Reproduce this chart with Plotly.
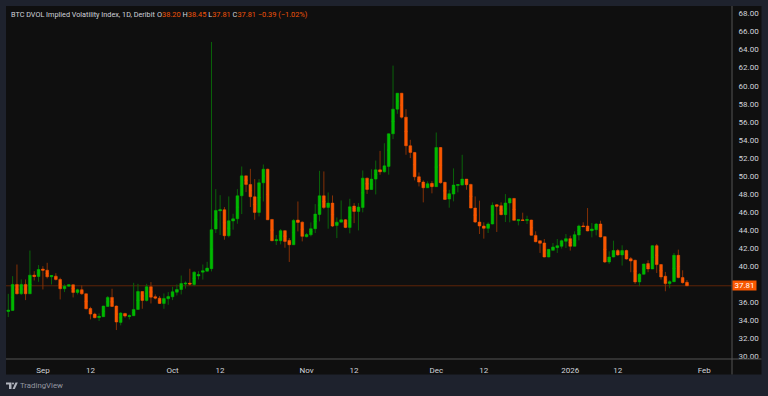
import pandas as pd
import plotly.graph_objects as go

START_DATE = "2025-08-24"
opens = [34.97,35.08,37.96,36.92,37.96,36.92,38.99,38.84,39.66,39.54,38.81,38.88,38.51,37.48,37.77,37.92,37.07,37.37,36.92,35.29,
 34.67,34.30,34.38,35.52,36.52,35.56,33.75,34.75,34.41,34.49,35.19,37.18,36.19,37.70,36.60,36.44,35.85,36.37,36.59,37.10,
 37.40,38.00,38.10,37.96,38.90,39.32,39.43,39.71,44.10,46.13,46.24,43.36,45.00,45.24,47.79,50.00,49.05,47.68,45.95,49.23,
 50.74,45.17,42.81,42.81,43.92,42.84,42.36,45.10,44.87,43.25,43.47,44.14,45.72,47.79,46.50,46.98,44.50,44.87,45.13,44.28,
 46.65,46.06,46.50,49.75,48.49,49.64,50.67,50.45,51.05,54.67,57.40,59.17,56.51,53.34,52.60,49.90,49.31,48.68,49.17,48.80,
 53.15,49.28,47.43,47.98,48.95,48.98,49.64,49.05,46.43,44.88,44.44,44.18,44.66,46.80,46.69,45.70,46.99,47.50,45.03,45.10,
 45.07,45.10,43.40,42.81,42.56,41.00,41.74,42.04,42.19,42.74,43.04,42.19,43.44,44.44,44.44,43.92,44.03,44.66,43.26,40.45,
 41.00,41.71,41.23,41.71,40.82,40.64,38.24,39.09,40.27,39.68,42.26,40.16,38.87,38.05,38.27,41.19,38.72,38.20]
highs = [36.92,38.88,40.17,38.51,38.51,41.72,39.43,40.10,39.99,40.36,38.95,39.21,38.70,37.96,37.96,37.96,37.48,37.85,36.95,35.48,
 34.82,34.75,35.60,36.67,37.48,35.63,34.89,34.80,34.63,38.14,38.03,37.20,38.03,38.22,36.85,36.67,36.96,37.11,37.70,37.96,
 38.95,38.30,39.70,39.43,39.43,40.17,40.47,64.85,48.53,47.86,46.54,47.72,45.80,48.53,51.04,50.00,50.78,49.64,49.64,51.26,
 50.80,45.20,43.44,44.10,43.95,43.10,45.20,47.16,44.95,43.66,44.84,46.87,50.56,50.49,48.16,47.83,45.39,47.27,45.20,47.46,
 46.98,46.98,50.60,49.80,50.74,51.70,52.77,53.62,54.70,62.23,59.20,59.20,57.40,54.00,52.65,50.38,49.50,49.40,49.42,54.81,
 53.20,49.35,48.46,50.83,49.02,52.34,49.66,49.13,47.72,47.25,44.85,44.85,47.06,46.88,47.06,47.98,47.58,47.55,45.14,45.92,
 45.58,45.14,43.85,42.81,43.00,41.90,42.56,43.00,42.93,43.55,43.37,43.85,44.59,44.85,46.43,44.77,44.77,45.03,43.30,41.63,
 42.81,41.90,42.30,41.82,41.00,40.71,39.23,40.25,40.64,42.30,42.45,40.23,39.35,38.42,41.45,41.82,39.53,38.45]
lows = [34.34,35.04,36.85,36.81,36.22,36.90,38.40,38.25,37.40,38.62,37.96,38.40,36.30,37.11,37.70,36.52,36.85,36.81,35.19,34.08,
 34.20,33.90,34.35,35.48,35.45,32.90,33.42,34.27,34.08,34.45,35.15,35.26,36.07,35.85,36.30,35.80,35.26,35.70,36.22,36.74,
 36.85,37.50,37.85,37.77,38.50,38.50,39.40,39.40,43.66,43.44,42.92,43.18,44.03,44.69,45.76,48.20,46.54,45.13,45.50,47.16,
 45.10,42.75,42.33,42.40,42.03,40.45,42.33,43.84,42.73,43.18,43.29,43.66,44.95,46.31,44.14,44.32,43.10,44.84,44.20,43.62,
 44.76,43.95,45.95,48.00,48.46,47.94,50.12,50.37,50.13,54.07,56.88,56.36,52.34,51.97,49.50,48.83,47.06,48.65,48.06,48.78,
 49.13,47.36,46.47,47.17,48.17,48.95,48.46,46.40,44.77,43.55,43.04,43.66,44.62,43.78,45.62,44.88,44.85,45.05,44.51,45.00,
 44.66,43.38,42.63,41.45,40.97,40.97,41.74,41.45,41.93,42.00,41.71,42.19,42.85,44.37,43.85,43.18,43.40,43.18,40.34,40.23,
 40.97,41.15,40.05,40.71,39.31,38.02,37.76,39.05,39.31,39.65,39.23,38.50,37.20,37.54,38.20,38.64,38.05,37.81]
closes = [35.11,37.96,36.92,37.96,36.92,38.99,38.84,39.62,39.54,38.81,38.95,38.51,37.48,37.77,37.92,37.07,37.37,36.92,35.26,34.67,
 34.27,34.41,35.56,36.52,35.52,33.79,34.78,34.45,34.49,35.19,37.18,36.19,37.70,36.55,36.44,35.85,36.41,36.63,37.15,37.40,
 38.07,38.10,38.00,39.32,39.05,39.47,39.77,44.03,46.17,46.24,43.36,45.02,45.24,47.79,50.00,49.05,47.68,45.95,49.23,50.74,
 45.13,42.81,42.92,43.92,42.73,42.36,45.06,44.84,43.29,43.50,44.14,45.76,47.79,46.50,46.98,44.43,44.87,45.13,44.28,46.57,
 46.06,46.54,49.75,48.49,49.64,50.67,50.45,51.11,54.67,57.40,59.17,56.51,53.34,52.60,49.90,49.31,48.68,49.13,48.80,53.15,
 49.24,47.39,48.02,48.98,49.02,49.64,49.02,46.43,44.88,44.44,44.18,44.66,46.73,46.62,45.70,46.99,47.50,45.07,45.14,45.07,
 45.14,43.41,42.70,42.52,41.00,41.85,42.11,42.26,42.81,43.04,42.19,43.48,44.44,44.37,43.89,44.11,44.66,43.22,40.45,41.00,
 41.71,41.23,41.71,40.78,40.56,38.24,39.09,40.23,39.68,42.26,40.16,38.79,38.05,38.27,41.19,38.72,38.16,37.81]

y_tick_vals = [v for v in range(30, 70, 2) if v != 38]  # 38.00 sits behind the last-price label
x_tick_dates = ["2025-09-01","2025-09-12","2025-10-01","2025-10-12","2025-11-01","2025-11-12",
                "2025-12-01","2025-12-12","2026-01-01","2026-01-12","2026-02-01"]
x_tick_text = ["Sep","12","Oct","12","Nov","12","Dec","12","2026","12","Feb"]
LAST_PRICE = 37.81

W, H = 768, 396
L, R, T, B = 6, 732.5, 6, 359.5
OUTER, PANEL, LINE = "#1e222d", "#0f0f0f", "#555555"
GREEN, RED = "#00b800", "#f85700"
GREEN_W, RED_W = "#0a640a", "#843006"
TEXT = "#d1d4dc"
FONT = "Roboto"

dates = pd.date_range(START_DATE, periods=len(opens), freq="D")

def px(x): return (x - L) / (R - L)
def py(y): return (B - y) / (B - T)

mid = [(o + c) / 2 for o, c in zip(opens, closes)]
sgn = [1 if c >= o else -1 for o, c in zip(opens, closes)]
wick_o = [m - s * 0.01 for m, s in zip(mid, sgn)]
wick_c = [m + s * 0.01 for m, s in zip(mid, sgn)]

fig = go.Figure()
fig.add_trace(go.Candlestick(
    x=dates, open=wick_o, high=highs, low=lows, close=wick_c, whiskerwidth=0,
    increasing=dict(line=dict(color=GREEN_W, width=1), fillcolor=GREEN_W),
    decreasing=dict(line=dict(color=RED_W, width=1), fillcolor=RED_W),
    showlegend=False, name="wicks"))
body_hi = [max(o, c) for o, c in zip(opens, closes)]
body_lo = [min(o, c) for o, c in zip(opens, closes)]
fig.add_trace(go.Candlestick(
    x=dates, open=opens, high=body_hi, low=body_lo, close=closes, whiskerwidth=0,
    increasing=dict(line=dict(color=GREEN, width=0.5), fillcolor=GREEN),
    decreasing=dict(line=dict(color=RED, width=0.5), fillcolor=RED),
    showlegend=False, name="BTC DVOL"))

LOGO = "#b2b5be"
shapes = [
    dict(type="rect", xref="paper", yref="paper", x0=px(6), x1=px(762), y0=py(375), y1=py(6),
         fillcolor=PANEL, line_width=0, layer="below"),
    dict(type="line", xref="paper", yref="paper", x0=px(732.5), x1=px(732.5), y0=py(375), y1=py(6),
         line=dict(color=LINE, width=1)),
    dict(type="line", xref="paper", yref="paper", x0=px(6), x1=px(762), y0=py(359.5), y1=py(359.5),
         line=dict(color=LINE, width=1)),
    dict(type="line", xref="paper", yref="y", x0=px(6), x1=px(732.5), y0=LAST_PRICE, y1=LAST_PRICE,
         line=dict(color="#5e2408", width=1), layer="below"),
    dict(type="path", xref="paper", yref="paper", fillcolor=LOGO, line_width=0,
         path="M {} {} L {} {} L {} {} L {} {} L {} {} L {} {} Z".format(
             px(6), py(383), px(11.5), py(383), px(11.5), py(389.5), px(9), py(389.5), px(9), py(385), px(6), py(385))),
    dict(type="path", xref="paper", yref="paper", fillcolor=LOGO, line_width=0,
         path="M {} {} L {} {} L {} {} L {} {} Z".format(
             px(15.5), py(383), px(17.8), py(383), px(14.8), py(389.5), px(12.5), py(389.5))),
    dict(type="circle", xref="paper", yref="paper", fillcolor=LOGO, line_width=0,
         x0=px(12), x1=px(14), y0=py(385), y1=py(383)),
]

ORANGE_TXT = "#f0530a"
ohlc = ("<span style='color:{t}'>O</span>38.20 <span style='color:{t}'>H</span>38.45 "
        "<span style='color:{t}'>L</span>37.81 <span style='color:{t}'>C</span>37.81 −0.39 (−1.02%)").format(t=TEXT)
annotations = [
    dict(xref="paper", yref="paper", x=px(9.5), y=py(14.5), xanchor="left", yanchor="middle", showarrow=False,
         text="BTC DVOL Implied Volatility Index, 1D, Deribit", font=dict(family=FONT, size=7.25, color=TEXT)),
    dict(xref="paper", yref="paper", x=px(155), y=py(14.5), xanchor="left", yanchor="middle", showarrow=False,
         text=ohlc, font=dict(family=FONT, size=7.4, color=ORANGE_TXT)),
    dict(xref="paper", yref="y", x=px(733), y=LAST_PRICE, xanchor="left", yanchor="middle", showarrow=False,
         text="37.81", font=dict(family=FONT, size=8, color="#ffffff"), bgcolor=RED,
         width=23, height=9, borderpad=0, align="center"),
    dict(xref="paper", yref="paper", x=px(18), y=py(386.5), xanchor="left", yanchor="middle", showarrow=False,
         text="TradingView", font=dict(family=FONT, size=7.8, color="#9598a1")),
]

fig.update_layout(
    width=W, height=H, autosize=False,
    margin=dict(l=L, r=W - R, t=T, b=H - B, pad=0),
    paper_bgcolor=OUTER, plot_bgcolor=PANEL,
    font=dict(family=FONT, size=8, color=TEXT),
    boxgap=0.1, showlegend=False, shapes=shapes, annotations=annotations,
    xaxis=dict(type="date", range=["2025-08-23 11:15", "2026-02-07 10:00"], rangeslider=dict(visible=False),
               tickmode="array", tickvals=x_tick_dates, ticktext=x_tick_text, showgrid=False, zeroline=False,
               showline=False, ticks="outside", ticklen=3, tickcolor="rgba(0,0,0,0)",
               tickfont=dict(family=FONT, size=8, color=TEXT)),
    yaxis=dict(side="right", range=[29.69, 68.84], tickmode="array", tickvals=y_tick_vals, tickformat=".2f",
               showgrid=False, zeroline=False, showline=False, ticks="outside", ticklen=4,
               tickcolor="rgba(0,0,0,0)", tickfont=dict(family=FONT, size=8, color=TEXT)),
)

fig.write_html("out.html", config=dict(displayModeBar=False), post_script=(
    "document.documentElement.style.margin='0';document.body.style.margin='0';"
    "document.body.style.overflow='hidden';document.body.style.background='" + OUTER + "';"))
